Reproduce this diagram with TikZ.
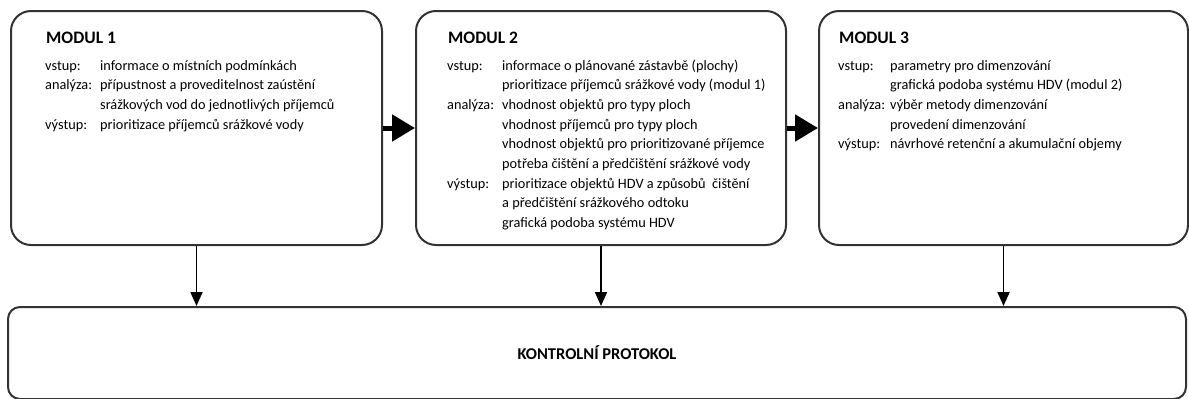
\documentclass[tikz,border=0pt]{standalone}
\usepackage{fontspec}
\setmainfont{Carlito}
\usetikzlibrary{arrows.meta,positioning}

\begin{document}
\begin{tikzpicture}[line cap=round,line join=round,x=1pt,y=-1pt,
  modul/.style={draw=black!80,line width=2pt,rounded corners=20pt,anchor=north west,inner sep=0pt},
  nadpis/.style={anchor=base west,inner sep=0pt,font=\fontsize{17.5}{20}\selectfont\bfseries},
  obsah/.style={anchor=base west,inner sep=0pt,align=left,font=\fontsize{14.3}{19.7}\selectfont},
  tok/.style={line width=5pt,line cap=butt,-{Triangle[length=23pt,width=26pt]}},
  kontrola/.style={line width=1.8pt,line cap=butt,-{Triangle[length=14pt,width=12pt]}}]
\useasboundingbox (0,0) rectangle (1189,399);
% moduly
\node[modul,minimum width=371pt,minimum height=234pt] (m1) at (10,10) {};
\node[modul,minimum width=370pt,minimum height=234pt] (m2) at (415,10) {};
\node[modul,minimum width=369pt,minimum height=234pt] (m3) at (818,10) {};
\node[modul,rounded corners=12pt,minimum width=1178pt,minimum height=92pt,
  font=\fontsize{16.5}{18}\selectfont\bfseries] (kp) at (7,306) {\raisebox{-5pt}{KONTROLNÍ PROTOKOL}};
% texty
\node[nadpis] (n1) at (46,43) {MODUL 1};
\node[obsah] (o1) at (45,70) {\begin{tabular}[t]{@{}p{55pt}@{}l@{}}
vstup: & informace o místních podmínkách\\
analýza: & přípustnost a proveditelnost zaústění\\
 & srážkových vod do jednotlivých příjemců\\
výstup: & prioritizace příjemců srážkové vody
\end{tabular}};
\node[nadpis] (n2) at (448,43) {MODUL 2};
\node[obsah] (o2) at (447,70) {\begin{tabular}[t]{@{}p{55pt}@{}l@{}}
vstup: & informace o plánované zástavbě (plochy)\\
 & prioritizace příjemců srážkové vody (modul 1)\\
analýza: & vhodnost objektů pro typy ploch\\
 & vhodnost příjemců pro typy ploch\\
 & vhodnost objektů pro prioritizované příjemce\\
 & potřeba čištění a předčištění srážkové vody\\
výstup: & prioritizace objektů HDV a způsobů\ \ čištění\\
 & a předčištění srážkového odtoku\\
 & grafická podoba systému HDV
\end{tabular}};
\node[nadpis] (n3) at (839,43) {MODUL 3};
\node[obsah] (o3) at (838,70) {\begin{tabular}[t]{@{}p{52pt}@{}l@{}}
vstup: & parametry pro dimenzování\\
 & grafická podoba systému HDV (modul 2)\\
analýza: & výběr metody dimenzování\\
 & provedení dimenzování\\
výstup: & návrhové retenční a akumulační objemy
\end{tabular}};
% sipky
\draw[tok] (m1.east) -- (m2.west);
\draw[tok] (m2.east) -- (m3.west);
\foreach \m in {m1,m2,m3}
{
    \draw[kontrola] (\m.south) -- (\m.south |- kp.north);
};
\end{tikzpicture}
\end{document}
